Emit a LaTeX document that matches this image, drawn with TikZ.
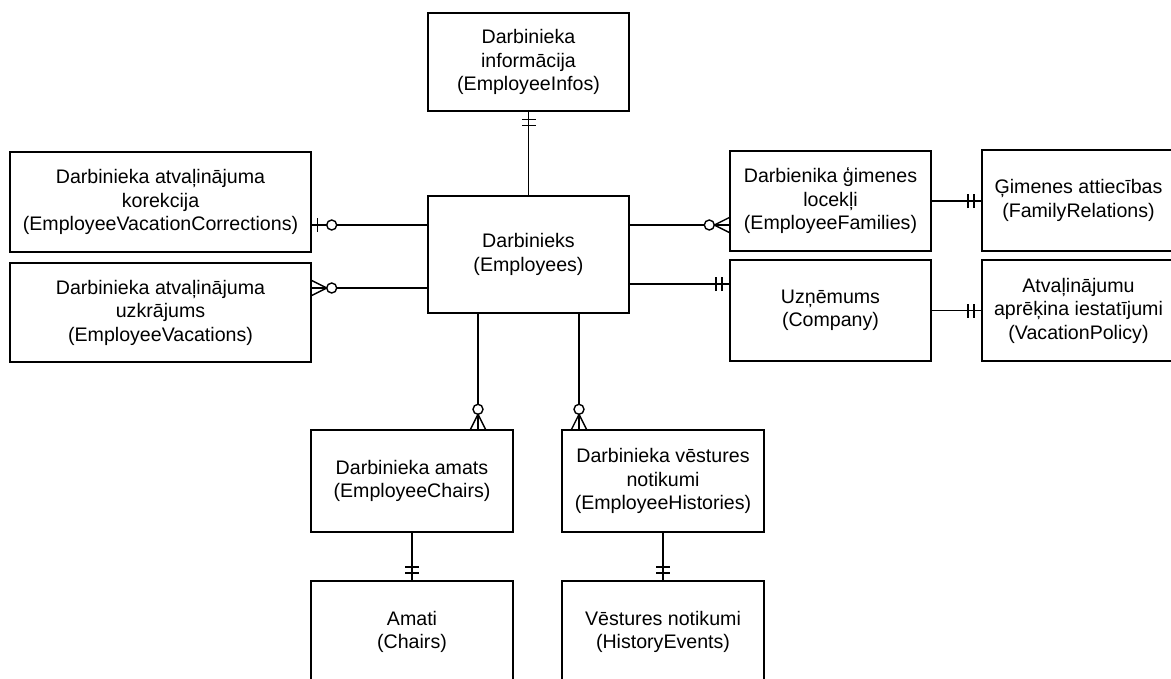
\documentclass[tikz,border=0pt]{standalone}
\usepackage{fontspec}
\setmainfont{Liberation Sans}
\begin{document}
\begin{tikzpicture}[x=1pt,y=-1pt,
  ent/.style={draw, line width=1.4pt, inner sep=0pt, align=center,
    font=\fontsize{19.6}{23.5}\selectfont},
  conn/.style={line width=1.4pt},
  onlyone/.pic={\draw[conn] (7.5,-7) -- (7.5,7) (13.5,-7) -- (13.5,7);},
  zeroone/.pic={\draw[conn] (6,-7) -- (6,7);
    \draw[conn, fill=white] (20,0) circle[radius=5pt];},
  zeromany/.pic={\draw[conn] (0,-7.5) -- (15,0) -- (0,7.5);
    \draw[conn, fill=white] (20,0) circle[radius=5pt];}]
\useasboundingbox (0,0) rectangle (1171,678);

\node[ent, minimum width=201, minimum height=98] (info) at (528.5,62)
  {Darbinieka\\informācija\\(EmployeeInfos)};
\node[ent, minimum width=301, minimum height=100] (corr) at (160.5,202)
  {Darbinieka atvaļinājuma\\korekcija\\(EmployeeVacationCorrections)};
\node[ent, minimum width=301, minimum height=99] (vac) at (160.5,312.5)
  {Darbinieka atvaļinājuma\\uzkrājums\\(EmployeeVacations)};
\node[ent, minimum width=201, minimum height=117] (emp) at (528.5,254.5)
  {Darbinieks\\(Employees)};
\node[ent, minimum width=201, minimum height=100] (fam) at (830.5,201)
  {Darbienika ģimenes\\locekļi\\(EmployeeFamilies)};
\node[ent, minimum width=201, minimum height=101] (comp) at (830.5,310.5)
  {Uzņēmums\\(Company)};
\node[ent, minimum width=193, minimum height=101] (famrel) at (1078.5,200.5)
  {Ģimenes attiecības\\(FamilyRelations)};
\node[ent, minimum width=193, minimum height=101] (pol) at (1078.5,310.5)
  {Atvaļinājumu\\aprēķina iestatījumi\\(VacationPolicy)};
\node[ent, minimum width=202, minimum height=102] (echairs) at (412,481)
  {Darbinieka amats\\(EmployeeChairs)};
\node[ent, minimum width=202, minimum height=102] (hist) at (663,481)
  {Darbinieka vēstures\\notikumi\\(EmployeeHistories)};
\node[ent, minimum width=202, minimum height=102] (chairs) at (412,632)
  {Amati\\(Chairs)};
\node[ent, minimum width=202, minimum height=102] (hevents) at (663,632)
  {Vēstures notikumi\\(HistoryEvents)};

% info - employees
\draw[conn] (info.south) -- (emp.north);
\pic[rotate=-90] at (info.south) {onlyone};
% corrections - employees
\draw[conn] (corr.east |- 0,225) -- (emp.west |- 0,225);
\pic at (corr.east |- 0,225) {zeroone};
% vacations - employees
\draw[conn] (vac.east |- 0,288) -- (emp.west |- 0,288);
\pic at (vac.east |- 0,288) {zeromany};
% employees - families
\draw[conn] (emp.east |- 0,225) -- (fam.west |- 0,225);
\pic[rotate=180] at (fam.west |- 0,225) {zeromany};
% employees - company
\draw[conn] (emp.east |- 0,284) -- (comp.west |- 0,284);
\pic[rotate=180] at (comp.west |- 0,284) {onlyone};
% families - family relations
\draw[conn] (fam.east) -- (famrel.west |- fam.east);
\pic[rotate=180] at (famrel.west |- fam.east) {onlyone};
% company - vacation policy
\draw[conn] (comp.east) -- (pol.west |- comp.east);
\pic[rotate=180] at (pol.west |- comp.east) {onlyone};
% employees - employee chairs
\draw[conn] (emp.south -| 478,0) -- (echairs.north -| 478,0);
\pic[rotate=90] at (echairs.north -| 478,0) {zeromany};
% employees - employee histories
\draw[conn] (emp.south -| 579,0) -- (hist.north -| 579,0);
\pic[rotate=90] at (hist.north -| 579,0) {zeromany};
% employee chairs - chairs
\draw[conn] (echairs.south) -- (chairs.north);
\pic[rotate=90] at (chairs.north) {onlyone};
% employee histories - history events
\draw[conn] (hist.south) -- (hevents.north);
\pic[rotate=90] at (hevents.north) {onlyone};
\end{tikzpicture}
\end{document}
